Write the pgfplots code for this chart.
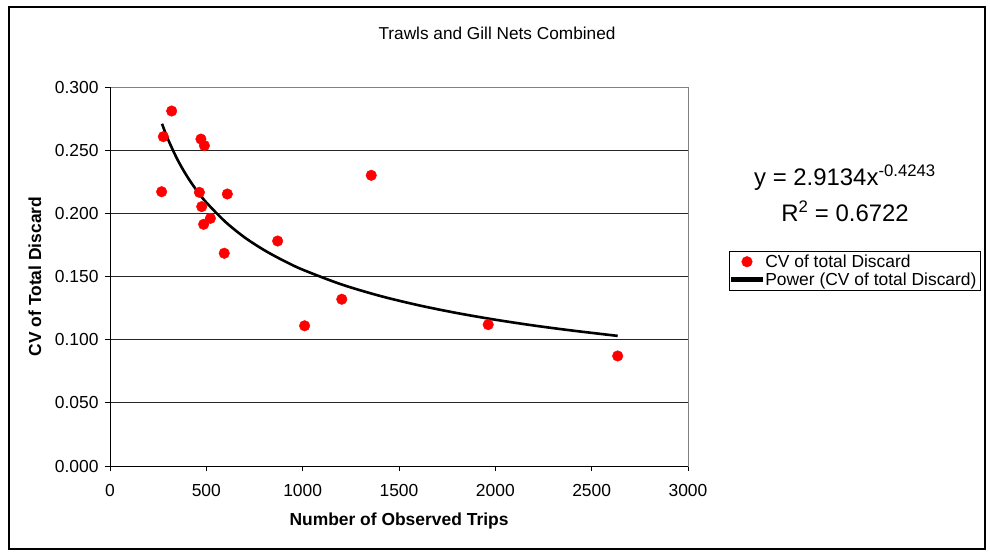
\documentclass[border=0pt]{standalone}
\usepackage{pgfplots}
\pgfplotsset{compat=1.18}
\usepackage{fontspec}
\setmainfont{Liberation Sans}
\pgfplotsset{
  legdot/.style={legend image code/.code={\draw[##1] plot coordinates {(15bp,0bp)};}},
  legline/.style={legend image code/.code={\fill[black] (0bp,-1.3bp) rectangle (30bp,1.3bp);}},
}
\pgfplotstableread{
x y
320 0.281
277 0.2607
472 0.2588
490 0.2536
268 0.2171
464 0.2166
609 0.2153
476 0.2053
521 0.1960
486 0.1913
593 0.1684
870 0.1781
1356 0.2301
1203 0.1320
1010 0.1110
1963 0.1119
2635 0.0871
}\pts
\pgfplotstableread{
x y
270 0.2709
300 0.2590
350 0.2426
400 0.2293
450 0.2181
500 0.2086
600 0.1931
700 0.1808
800 0.1709
900 0.1626
1000 0.1554
1200 0.1438
1400 0.1347
1600 0.1273
1800 0.1211
2000 0.1158
2200 0.1112
2400 0.1072
2635 0.1030
}\fit
\begin{document}
\begin{tikzpicture}[x=1bp,y=1bp]
\path[use as bounding box] (0bp,0bp) rectangle (990bp,-552bp);
\draw[line width=1.6bp] (9bp,-7bp) rectangle (985bp,-549bp);
\node[font=\fontsize{17.3}{20}\selectfont] at (497bp,-33bp) {Trawls and Gill Nets Combined};
\begin{axis}[
  at={(110bp,-466bp)}, anchor=south west,
  scale only axis, width=578bp, height=379bp,
  xmin=0, xmax=3000, ymin=0, ymax=0.3,
  xtick={0,500,...,3000}, ytick={0,0.05,0.1,0.15,0.2,0.25,0.3},
  ymajorgrids, grid style={black!85, line width=0.9bp},
  axis line style={draw=gray, line width=1bp},
  tick align=outside, xtick pos=lower, ytick pos=left,
  major tick length=5bp, tick style={black, line width=0.9bp},
  /pgf/number format/assume math mode=true,
  ticklabel style={font=\fontsize{17.5}{20}\selectfont},
  yticklabel style={xshift=-3bp, /pgf/number format/.cd, fixed, fixed zerofill, precision=3},
  xticklabel style={yshift=-10bp, /pgf/number format/1000 sep={}},
  xlabel={\textbf{Number of Observed Trips}},
  ylabel={\textbf{CV of Total Discard}},
  label style={font=\fontsize{17.5}{20}\selectfont},
  xlabel style={at={(axis description cs:0.5,-0.1451)}, anchor=center},
  ylabel style={at={(axis description cs:-0.1298,0.5)}, anchor=center},
  legend style={at={(1.0709,0.5673)}, anchor=north west, draw=black,
    font=\fontsize{17.5}{20}\selectfont, inner xsep=1.5bp, inner ysep=1.5bp, row sep=0bp,
    cells={anchor=west}},
  legend cell align=left,
  clip=false,
]
\addplot[only marks, mark=*, mark size=5.3bp, color=red, mark options={draw=red, fill=red}, legdot] table[x=x,y=y]{\pts};
\addlegendentry{CV of total Discard}
\addplot[black, line width=2.6bp, smooth, legline] table[x=x,y=y]{\fit};
\addlegendentry{Power (CV of total Discard)}
\draw[black, line width=1bp] (rel axis cs:0,1) -- (rel axis cs:0,0) -- (rel axis cs:1,0);
\end{axis}
\node[font=\fontsize{24}{28}\selectfont] at (845bp,-178bp) {y = 2.9134x\textsuperscript{-0.4243}};
\node[font=\fontsize{24}{28}\selectfont] at (845bp,-211bp) {R\textsuperscript{2} = 0.6722};
\end{tikzpicture}
\end{document}
